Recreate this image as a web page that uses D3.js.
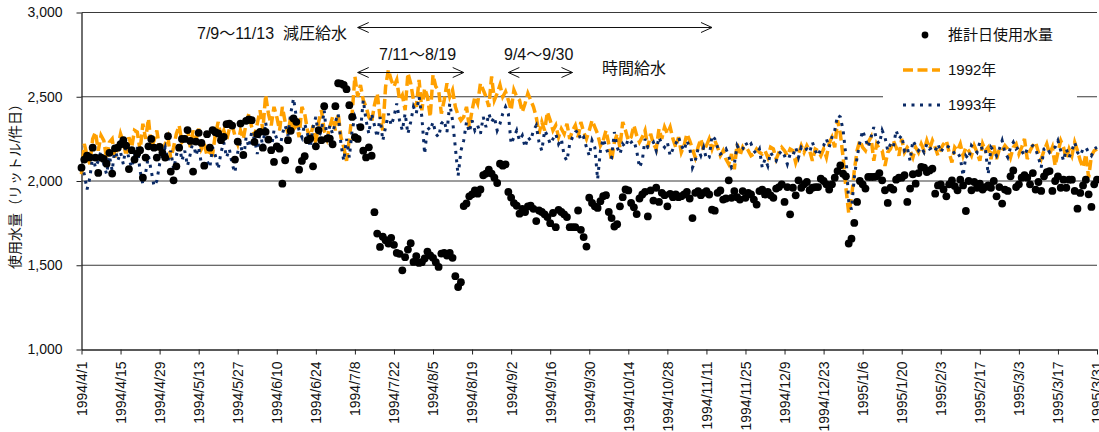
<!DOCTYPE html>
<html lang="ja">
<head>
<meta charset="UTF-8">
<title>推計日使用水量</title>
<script src="https://d3js.org/d3.v7.min.js"></script>
<style>
  body { margin: 0; background: #fff; }
  svg { display: block; font-family: "Liberation Sans", "Noto Sans CJK JP", sans-serif; }
</style>
</head>
<body>
<svg id="chart" width="1099" height="432"></svg>
<script>
// day 0 = 1994/4/1, one value per day up to 1995/3/31
const startDay = new Date(Date.UTC(1994, 3, 1));

const usage = [
  2079, 2127, 2151, 2140, 2198, 2139, 2048, 2139, 2131, 2103,
  2167, 2044, 2194, 2198, 2218, 2242, 2210, 2071, 2183, 2127,
  2163, 2183, 2020, 2139, 2206, 2250, 2198, 2139, 2202, 2167,
  2139, 2266, 2056, 2004, 2087, 2198, 2250, 2250, 2302, 2238,
  2056, 2234, 2286, 2226, 2091, 2278, 2198, 2302, 2290, 2282,
  2242, 2262, 2337, 2341, 2329, 2127, 2234, 2341, 2155, 2357,
  2365, 2361, 2232, 2278, 2292, 2198, 2292, 2246, 2183, 2113,
  2206, 2192, 1984, 2123, 2242, 2298, 2371, 2351, 2067, 2119,
  2147, 2242, 2252, 2087, 2206, 2302, 2242, 2444, 2252, 2252,
  2218, 2444, 2580, 2578, 2570, 2545, 2450, 2380, 2260, 2250,
  2320, 2180, 2140, 2200, 2150, 1815, 1688, 1609, 1669, 1649,
  1629, 1663, 1621, 1573, 1567, 1470, 1548, 1593, 1631, 1520,
  1554, 1514, 1518, 1540, 1581, 1558, 1544, 1518, 1490, 1569,
  1573, 1558, 1573, 1544, 1435, 1371, 1399, 1851, 1867, 1909,
  1921, 1944, 1925, 1950, 2034, 2044, 2067, 2044, 2020, 1988,
  2103, 2091, 2099, 1935, 1901, 1869, 1853, 1806, 1835, 1816,
  1849, 1853, 1835, 1762, 1825, 1816, 1802, 1786, 1750, 1810,
  1726, 1829, 1816, 1802, 1786, 1726, 1726, 1726, 1825, 1710,
  1667, 1611, 1901, 1870, 1850, 1840, 1880, 1910, 1916, 1816,
  1780, 1730, 1744, 1850, 1904, 1950, 1944, 1870, 1844, 1804,
  1896, 1920, 1936, 1790, 1944, 1884, 1960, 1876, 1930, 1916,
  1850, 1924, 1904, 1920, 1904, 1910, 1920, 1936, 1896, 1780,
  1930, 1940, 1916, 1930, 1940, 1920, 1830, 1824, 1930, 1944,
  1890, 1896, 2004, 1900, 1940, 1904, 1890, 1940, 1900, 1930,
  1920, 1890, 1860, 1940, 1949, 1920, 1935, 1915, 1900, 1955,
  1964, 1980, 1876, 1964, 1802, 1960, 1915, 2004, 1960, 1980,
  1994, 1945, 1960, 1964, 1964, 2014, 2000, 1980, 1949, 1980,
  2020, 2059, 2093, 2043, 2028, 1629, 1658, 1751, 1876, 2000,
  1980, 1955, 2024, 2024, 2024, 2028, 2047, 2004, 1945, 1870,
  1960, 1949, 2008, 2020, 2020, 2034, 1876, 1955, 2040, 1984,
  2047, 2083, 2079, 2053, 2063, 2073, 1925, 1974, 1980, 1950,
  1909, 1980, 2004, 1970, 1945, 2008, 1974, 1822, 2000, 1945,
  1994, 1960, 1984, 1949, 1964, 1974, 1960, 2000, 1909, 1964,
  1866, 1949, 1941, 2028, 2063, 1964, 1980, 2020, 2034, 2020,
  1980, 2047, 1949, 1994, 1941, 2028, 2053, 2059, 1941, 2000,
  2028, 1960, 2008, 1960, 2008, 2008, 1941, 1836, 1929, 1974,
  2008, 1921, 1846, 1980, 2008
];

const y1992 = [
  2040, 2220, 2150, 2100, 2250, 2290, 2180, 2270, 2240, 2130,
  2230, 2250, 2140, 2200, 2280, 2230, 2150, 2260, 2200, 2300,
  2290, 2180, 2340, 2250, 2370, 2200, 2240, 2300, 2190, 2160,
  2220, 2260, 2130, 2200, 2280, 2330, 2230, 2250, 2310, 2200,
  2300, 2240, 2310, 2190, 2220, 2150, 2170, 2160, 2280, 2350,
  2260, 2300, 2240, 2310, 2330, 2270, 2220, 2300, 2250, 2340,
  2400, 2320, 2270, 2340, 2420, 2300, 2510, 2400, 2330, 2440,
  2380, 2300, 2440, 2350, 2280, 2380, 2290, 2340, 2260, 2440,
  2400, 2300, 2260, 2330, 2220, 2350, 2420, 2300, 2250, 2320,
  2380, 2300, 2400, 2260, 2200, 2120, 2250, 2400, 2620, 2500,
  2570, 2480, 2440, 2380, 2350, 2450, 2520, 2380, 2300, 2560,
  2660, 2600, 2560, 2600, 2480, 2510, 2420, 2640, 2580, 2480,
  2440, 2600, 2420, 2550, 2500, 2380, 2630, 2560, 2540, 2400,
  2480, 2580, 2500, 2540, 2440, 2390, 2360, 2380, 2440, 2320,
  2420, 2500, 2460, 2580, 2540, 2500, 2440, 2620, 2480, 2520,
  2570, 2500, 2530, 2480, 2420, 2540, 2500, 2480, 2410, 2460,
  2520, 2480, 2440, 2380, 2280, 2350, 2300, 2410, 2360, 2300,
  2330, 2260, 2310, 2280, 2340, 2250, 2300, 2330, 2260, 2350,
  2290, 2250, 2300, 2360, 2320, 2280, 2210, 2240, 2300, 2220,
  2120, 2230, 2280, 2200, 2350, 2300, 2240, 2260, 2330, 2270,
  2230, 2260, 2300, 2200, 2280, 2220, 2190, 2310, 2250, 2320,
  2280, 2320, 2250, 2200, 2260, 2170, 2210, 2280, 2240, 2190,
  2140, 2200, 2250, 2180, 2210, 2250, 2190, 2240, 2200, 2150,
  2180, 2130, 2100, 2160, 2070, 2220, 2150, 2200, 2170, 2180,
  2150, 2160, 2190, 2170, 2160, 2180, 2140, 2200, 2190, 2130,
  2170, 2200, 2180, 2150, 2190, 2180, 2110, 2160, 2210, 2170,
  2210, 2180, 2120, 2190, 2180, 2150, 2190, 2140, 2225, 2260,
  2200, 2360, 2280, 2140, 1960, 1810, 1900, 2060, 2180, 2240,
  2200, 2180, 2230, 2260, 2120, 2220, 2190, 2180, 2090, 2170,
  2190, 2240, 2200, 2150, 2250, 2170, 2200, 2180, 2140, 2200,
  2170, 2220, 2180, 2240, 2190, 2240, 2200, 2150, 2190, 2220,
  2240, 2170, 2110, 2200, 2180, 2220, 2150, 2200, 2180, 2150,
  2210, 2170, 2120, 2220, 2180, 2200, 2130, 2210, 2130, 2190,
  2180, 2210, 2190, 2140, 2200, 2220, 2160, 2200, 2250, 2130,
  2180, 2210, 2230, 2170, 2130, 2180, 2220, 2160, 2200, 2090,
  2170, 2240, 2200, 2130, 2190, 2150, 2230, 2180, 2120, 2080,
  2160, 2020, 2150, 2180, 2190
];

const y1993 = [
  2100, 2040, 1950, 2020, 2150, 2080, 2120, 2180, 2100, 2040,
  2150, 2060, 2200, 2120, 2170, 2100, 2220, 2130, 2080, 2150,
  2200, 2060, 1980, 2050, 2150, 2060, 1970, 2000, 2100, 2150,
  2200, 2120, 2180, 2070, 2150, 2230, 2120, 2180, 2090, 2160,
  2240, 2150, 2200, 2100, 2060, 2120, 2080, 2200, 2150, 2070,
  2170, 2230, 2140, 2190, 2100, 2050, 2170, 2230, 2120, 2260,
  2200, 2290, 2250, 2160, 2300, 2200, 2350, 2240, 2190, 2300,
  2250, 2180, 2280, 2330, 2270, 2400, 2490, 2380, 2300, 2260,
  2340, 2280, 2200, 2320, 2380, 2260, 2300, 2420, 2240, 2330,
  2280, 2350, 2400, 2220, 2120, 2250, 2140, 2300, 2380, 2330,
  2300, 2480, 2360, 2280, 2400, 2330, 2260, 2380, 2240, 2320,
  2400, 2330, 2380, 2460, 2360, 2300, 2400, 2280, 2350, 2440,
  2400, 2500, 2380, 2160, 2320, 2300, 2350, 2280, 2260, 2340,
  2360, 2290, 2460, 2360, 2200, 2030, 2180, 2240, 2350, 2290,
  2360, 2300, 2330, 2280, 2380, 2320, 2400, 2350, 2380, 2300,
  2340, 2400, 2440, 2400, 2220, 2260, 2300, 2240, 2270, 2200,
  2260, 2240, 2300, 2330, 2230, 2180, 2300, 2270, 2220, 2250,
  2280, 2220, 2250, 2150, 2120, 2220, 2260, 2290, 2300, 2240,
  2260, 2200, 2150, 2240, 2200, 2010, 2180, 2250, 2200, 2150,
  2140, 2290, 2200, 2160, 2220, 2200, 2250, 2230, 2240, 2180,
  2080, 2120, 2250, 2200, 2210, 2230, 2180, 2260, 2220, 2200,
  2230, 2150, 2190, 2220, 2260, 2210, 2180, 2240, 2200, 2080,
  2120, 2190, 2150, 2200, 2130, 2140, 2270, 2250, 2200, 2160,
  2170, 2190, 2150, 2080, 2100, 2210, 2180, 2190, 2230, 2200,
  2220, 2180, 2160, 2190, 2080, 2130, 2090, 2170, 2140, 2120,
  2160, 2180, 2150, 2100, 2160, 2150, 2200, 2140, 2200, 2180,
  2190, 2170, 2230, 2180, 2150, 2190, 2210, 2250, 2200, 2260,
  2300, 2390, 2380, 2300, 2150, 1880, 1830, 2020, 2140, 2230,
  2300, 2250, 2200, 2260, 2320, 2240, 2220, 2300, 2260, 2180,
  2220, 2200, 2300, 2250, 2270, 2180, 2200, 2120, 2240, 2210,
  2180, 2200, 2170, 2220, 2190, 2200, 2180, 2220, 2170, 2200,
  2210, 2200, 2190, 2160, 2170, 2140, 2030, 2150, 2130, 2210,
  2190, 2170, 2230, 2180, 2190, 2040, 2200, 2180, 2150, 2190,
  2240, 2170, 2140, 2200, 2230, 2190, 2200, 2180, 2150, 2190,
  2200, 2210, 2190, 2140, 2080, 2190, 2200, 2170, 2190, 2200,
  2240, 2180, 2120, 2190, 2140, 2180, 2230, 2170, 2150, 2190,
  2200, 2170, 2150, 2190, 2200
];

const yTicks = [1000, 1500, 2000, 2500, 3000];
const gridValues = [1500, 2000, 2500, 3000];
const seriesNames = ["推計日使用水量", "1992年", "1993年"];
const yTitle = "使用水量（リットル/件日）";

// annotation texts and the date spans of their arrows
const noteTexts = ["7/9～11/13  減圧給水", "7/11～8/19", "9/4～9/30", "時間給水"];
const arrowSpans = [["1994-07-09", "1994-11-13"], ["1994-07-09", "1994-08-16"], ["1994-09-01", "1994-09-24"]];

const svg = d3.select("#chart");
const dayOf = i => d3.utcDay.offset(startDay, i);
const endDay = dayOf(364);

const x = d3.scaleUtc().domain([startDay, endDay]).range([81.5, 1097]);
const y = d3.scaleLinear().domain([1000, 3000]).range([349.5, 12.5]);

const ORANGE = "#ffa000";
const NAVY = "#0a2a66";

// grid
svg.append("g").selectAll("line")
  .data(gridValues)
  .join("line")
  .attr("x1", 81.5).attr("x2", 1097)
  .attr("y1", d => y(d)).attr("y2", d => y(d))
  .attr("stroke", "#3a3a3a").attr("stroke-width", 1);

// axes
const xTicks = d3.range(0, 365, 14).map(dayOf);
const xAxis = svg.append("g")
  .attr("transform", `translate(0,${y(1000)})`)
  .call(d3.axisBottom(x).tickValues(xTicks).tickFormat(d3.utcFormat("%Y/%-m/%-d")).tickSize(5).tickSizeOuter(0));
xAxis.select(".domain").attr("stroke", "#222").attr("stroke-width", 1.3);
xAxis.selectAll(".tick line").attr("stroke", "#222");
xAxis.selectAll("text")
  .attr("transform", "rotate(-90)")
  .attr("x", -12).attr("y", 0).attr("dy", "0.35em")
  .attr("text-anchor", "end")
  .attr("font-size", 14).attr("fill", "#111")
  .attr("font-family", "Liberation Sans");

const yAxis = svg.append("g")
  .attr("transform", "translate(81.5,0)")
  .call(d3.axisLeft(y).tickValues(yTicks).tickFormat(d3.format(",")).tickSize(5).tickPadding(14).tickSizeOuter(0));
yAxis.select(".domain").attr("stroke", "#222").attr("stroke-width", 1.3);
yAxis.selectAll(".tick line").attr("stroke", "#222");
yAxis.selectAll("text").attr("font-size", 14).attr("fill", "#111").attr("font-family", "Liberation Sans");

svg.append("text")
  .attr("transform", `translate(20,${(y(1000) + y(3000)) / 2 + 2}) rotate(-90)`)
  .attr("text-anchor", "middle")
  .attr("font-size", 14).attr("fill", "#111")
  .text(yTitle);

// lines
const line = d3.line().x((d, i) => x(dayOf(i))).y(d => y(d));

svg.append("path").datum(y1992)
  .attr("d", line).attr("fill", "none")
  .attr("stroke", ORANGE).attr("stroke-width", 3.5)
  .attr("stroke-dasharray", "10 4.5");

svg.append("path").datum(y1993)
  .attr("d", line).attr("fill", "none")
  .attr("stroke", NAVY).attr("stroke-width", 3)
  .attr("stroke-dasharray", "3 5.5");

// estimated daily usage
svg.append("g").selectAll("circle")
  .data(usage)
  .join("circle")
  .attr("cx", (d, i) => x(dayOf(i)))
  .attr("cy", d => y(d))
  .attr("r", 3.9)
  .attr("fill", "#000");

// annotations
const arrowY = [27, 72, 72];
const parseDay = d3.utcParse("%Y-%m-%d");
const arrows = svg.append("g").attr("stroke", "#111").attr("stroke-width", 1).attr("fill", "none");
arrowSpans.forEach((s, i) => {
  const x0 = x(parseDay(s[0])), x1 = x(parseDay(s[1])), yy = arrowY[i] + 0.5;
  arrows.append("line").attr("x1", x0).attr("x2", x1).attr("y1", yy).attr("y2", yy);
  arrows.append("path").attr("d", `M${x0 + 11},${yy - 5}L${x0},${yy}L${x0 + 11},${yy + 5}`);
  arrows.append("path").attr("d", `M${x1 - 11},${yy - 5}L${x1},${yy}L${x1 - 11},${yy + 5}`);
});

const notePos = [[197, 39], [379, 60], [504, 60], [602, 74]];
svg.append("g").selectAll("text")
  .data(noteTexts)
  .join("text")
  .attr("x", (d, i) => notePos[i][0])
  .attr("y", (d, i) => notePos[i][1])
  .attr("font-size", 16).attr("fill", "#111")
  .attr("xml:space", "preserve")
  .style("white-space", "pre")
  .text(d => d);

// legend
const legend = svg.append("g");
legend.append("rect")
  .attr("x", 883).attr("y", 16).attr("width", 194).attr("height", 104)
  .attr("fill", "#fff");
legend.append("circle").attr("cx", 925).attr("cy", 35).attr("r", 3.4).attr("fill", "#000");
legend.append("line").attr("x1", 903).attr("x2", 940).attr("y1", 70).attr("y2", 70)
  .attr("stroke", ORANGE).attr("stroke-width", 3.5).attr("stroke-dasharray", "10 4.5");
legend.append("line").attr("x1", 903).attr("x2", 940).attr("y1", 105).attr("y2", 105)
  .attr("stroke", NAVY).attr("stroke-width", 3).attr("stroke-dasharray", "3 5.5");
legend.selectAll("text")
  .data(seriesNames)
  .join("text")
  .attr("x", 948)
  .attr("y", (d, i) => 40 + i * 35)
  .attr("font-size", 15).attr("fill", "#111")
  .text(d => d);
</script>
</body>
</html>
